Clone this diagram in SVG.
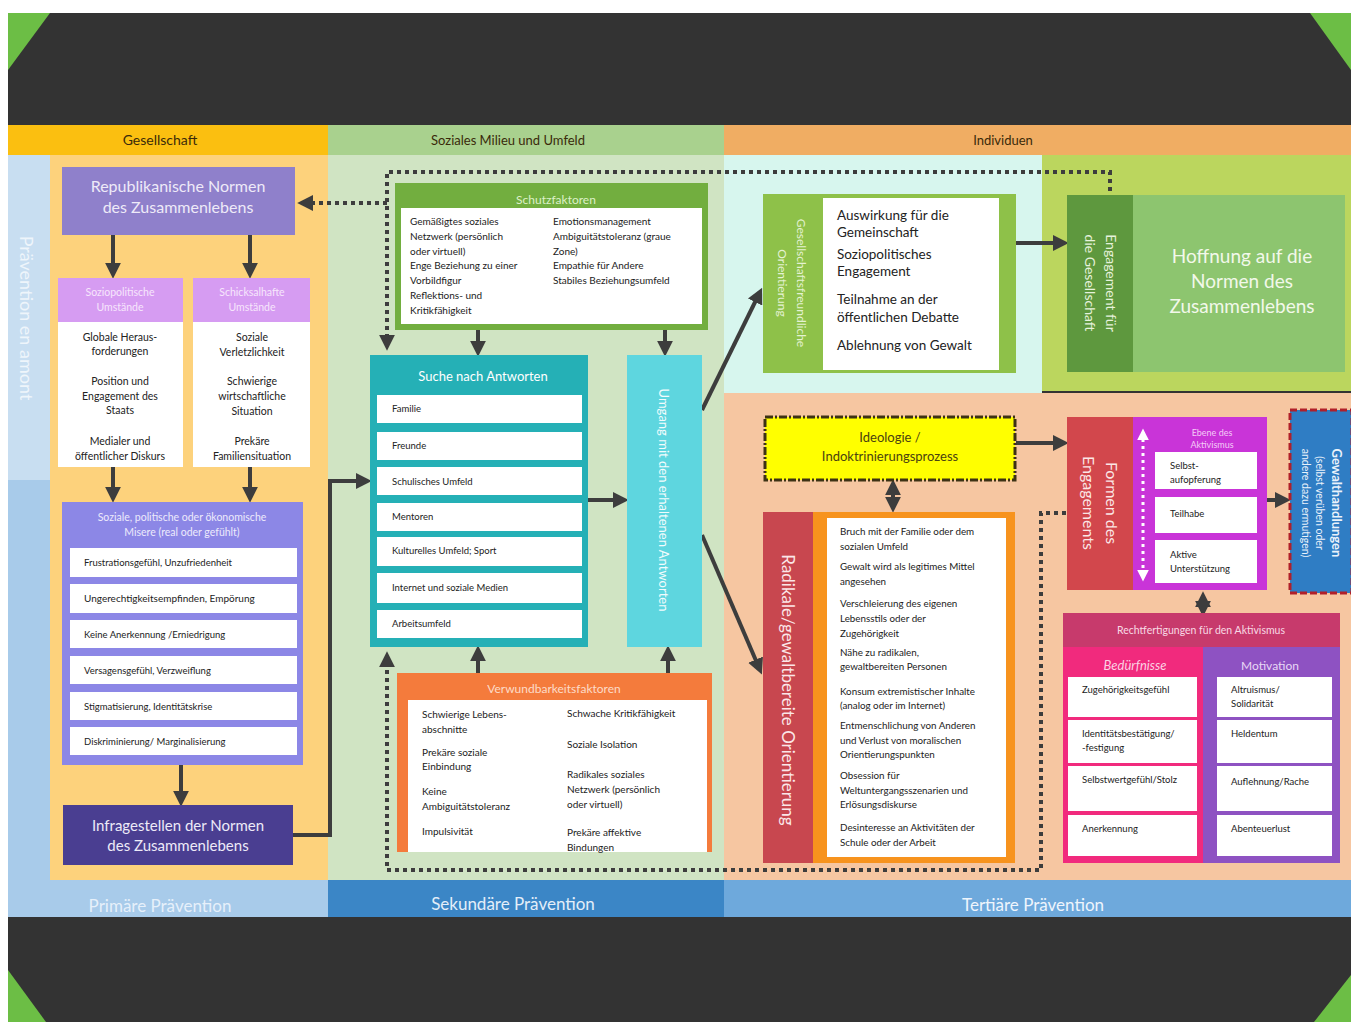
<svg xmlns="http://www.w3.org/2000/svg" width="1351" height="1022" viewBox="0 0 1351 1022">
<style>
text{font-family:Lato,"Open Sans","Liberation Sans",sans-serif}
.c{text-anchor:middle}
.it{font-size:10px;fill:#222}
.itc{font-size:10.5px;fill:#222;text-anchor:middle}
.w{fill:#fff}
.ar{stroke:#3d3d3d;stroke-width:4;fill:none}
.dot{stroke:#3d3d3d;stroke-width:4;fill:none;stroke-dasharray:4 4}
.hdr{font-size:14px;fill:#3a2a0a;text-anchor:middle}
.band{font-size:17px;text-anchor:middle}
</style>
<defs>
<marker id="ah" viewBox="0 0 10 10" refX="7" refY="5" markerWidth="4" markerHeight="4" orient="auto-start-reverse"><path d="M0,0 L10,5 L0,10 z" fill="#3d3d3d"/></marker>
<marker id="ahw" viewBox="0 0 10 10" refX="7" refY="5" markerWidth="4" markerHeight="4" orient="auto-start-reverse"><path d="M0,0 L10,5 L0,10 z" fill="#fff"/></marker>
</defs>
<rect width="1351" height="1022" fill="#fff"/>
<!-- frame -->
<rect x="8" y="13" width="1343" height="1009" fill="#333"/>
<polygon points="8,13 50,13 8,70" fill="#6CBE45"/>
<polygon points="1310,13 1351,13 1351,70" fill="#6CBE45"/>
<polygon points="8,970 8,1022 46,1022" fill="#6CBE45"/>
<polygon points="1351,975 1351,1022 1314,1022" fill="#6CBE45"/>
<!-- headers -->
<rect x="8" y="125" width="320" height="30" fill="#FBBF10"/>
<rect x="328" y="125" width="396" height="30" fill="#A9D18E"/>
<rect x="724" y="125" width="627" height="30" fill="#F0AD63"/>
<text x="160" y="145" class="hdr">Gesellschaft</text>
<text x="508" y="145" class="hdr" style="font-size:13px">Soziales Milieu und Umfeld</text>
<text x="1003" y="145" class="hdr" style="font-size:13px">Individuen</text>
<!-- regions -->
<rect x="8" y="155" width="42" height="325" fill="#C8DEF1"/>
<rect x="8" y="480" width="42" height="437" fill="#A8CBEA"/>
<rect x="50" y="155" width="278" height="725" fill="#FDD27C"/>
<rect x="328" y="155" width="396" height="725" fill="#D0E4C3"/>
<rect x="724" y="155" width="318" height="238" fill="#D7F6EE"/>
<rect x="1042" y="155" width="309" height="236" fill="#BBD65E"/>
<rect x="724" y="393" width="627" height="487" fill="#F6C6A1"/>
<rect x="8" y="880" width="320" height="37" fill="#A8CBEA"/>
<rect x="328" y="880" width="396" height="37" fill="#3B86C6"/>
<rect x="724" y="880" width="627" height="37" fill="#6EA9DC"/>
<text x="160" y="912" class="band" fill="#E6F0FA">Primäre Prävention</text>
<text x="513" y="910" class="band" fill="#E3EEF9">Sekundäre Prävention</text>
<text x="1033" y="911" class="band" fill="#EEF5FC">Tertiäre Prävention</text>
<text x="26" y="318" class="c" transform="rotate(90 26 318)" style="font-size:18px" fill="#EEF5FB" dy="6">Prävention en amont</text>

<!-- connectors -->
<g id="connectors">
<path class="dot" d="M387,346 V172 H1110 V193" marker-start="url(#ah)"/>
<path class="dot" d="M387,203 H302" marker-end="url(#ah)"/>
<path class="dot" d="M1066,513 H1041 V870 H387 V656" marker-end="url(#ah)"/>
<line class="ar" x1="113" y1="235" x2="113" y2="274" marker-end="url(#ah)"/>
<line class="ar" x1="250" y1="235" x2="250" y2="274" marker-end="url(#ah)"/>
<line class="ar" x1="113" y1="467" x2="113" y2="498" marker-end="url(#ah)"/>
<line class="ar" x1="250" y1="467" x2="250" y2="498" marker-end="url(#ah)"/>
<line class="ar" x1="181" y1="765" x2="181" y2="802" marker-end="url(#ah)"/>
<path class="ar" d="M293,835 H330 V481 H367" marker-end="url(#ah)"/>
<line class="ar" x1="478" y1="330" x2="478" y2="352" marker-end="url(#ah)"/>
<line class="ar" x1="665" y1="330" x2="665" y2="352" marker-end="url(#ah)"/>
<line class="ar" x1="588" y1="500" x2="624" y2="500" marker-end="url(#ah)"/>
<line class="ar" x1="478" y1="673" x2="478" y2="650" marker-end="url(#ah)"/>
<line class="ar" x1="668" y1="673" x2="668" y2="650" marker-end="url(#ah)"/>
<line class="ar" x1="702" y1="410" x2="760" y2="292" marker-end="url(#ah)"/>
<line class="ar" x1="702" y1="535" x2="760" y2="670" marker-end="url(#ah)"/>
<line class="ar" x1="1016" y1="243" x2="1064" y2="243" marker-end="url(#ah)"/>
<line class="ar" x1="1016" y1="443" x2="1064" y2="443" marker-end="url(#ah)"/>
<line class="ar" x1="893" y1="484" x2="893" y2="508" stroke-width="3" marker-start="url(#ah)" marker-end="url(#ah)"/>
<line class="ar" x1="1267" y1="500" x2="1286" y2="500" marker-end="url(#ah)"/>
<line class="ar" x1="1203" y1="596" x2="1203" y2="612" stroke-width="3" marker-start="url(#ah)" marker-end="url(#ah)"/>
</g>

<!-- Gesellschaft column -->
<g id="republikanische">
<rect x="62" y="167" width="233" height="68" fill="#8F80CB"/>
<text x="178" y="192" class="c" style="font-size:16px" fill="#EEEAF8">Republikanische Normen</text>
<text x="178" y="213" class="c" style="font-size:16px" fill="#EEEAF8">des Zusammenlebens</text>
</g>
<g id="soziopolitische">
<rect x="58" y="278" width="125" height="44" fill="#D69CF2"/>
<text x="120" y="296" class="c" style="font-size:10.5px" fill="#F6E6FC">Soziopolitische</text>
<text x="120" y="311" class="c" style="font-size:10.5px" fill="#F6E6FC">Umstände</text>
<rect x="58" y="322" width="125" height="145" fill="#fff"/>
<text x="120" y="341" class="itc">Globale Heraus-</text>
<text x="120" y="355" class="itc">forderungen</text>
<text x="120" y="385" class="itc">Position und</text>
<text x="120" y="400" class="itc">Engagement des</text>
<text x="120" y="414" class="itc">Staats</text>
<text x="120" y="445" class="itc">Medialer und</text>
<text x="120" y="460" class="itc">öffentlicher Diskurs</text>
</g>
<g id="schicksalhafte">
<rect x="193" y="278" width="117" height="44" fill="#D69CF2"/>
<text x="252" y="296" class="c" style="font-size:10.5px" fill="#F6E6FC">Schicksalhafte</text>
<text x="252" y="311" class="c" style="font-size:10.5px" fill="#F6E6FC">Umstände</text>
<rect x="193" y="322" width="117" height="145" fill="#fff"/>
<text x="252" y="341" class="itc">Soziale</text>
<text x="252" y="356" class="itc">Verletzlichkeit</text>
<text x="252" y="385" class="itc">Schwierige</text>
<text x="252" y="400" class="itc">wirtschaftliche</text>
<text x="252" y="415" class="itc">Situation</text>
<text x="252" y="445" class="itc">Prekäre</text>
<text x="252" y="460" class="itc">Familiensituation</text>
</g>
<g id="misere">
<rect x="62" y="502" width="241" height="263" fill="#8C87E6"/>
<text x="182" y="521" class="c" style="font-size:10.5px" fill="#ECEAFC">Soziale, politische oder ökonomische</text>
<text x="182" y="536" class="c" style="font-size:10.5px" fill="#ECEAFC">Misere (real oder gefühlt)</text>
<rect x="70" y="548" width="227" height="29" class="w"/>
<rect x="70" y="584" width="227" height="29" class="w"/>
<rect x="70" y="620" width="227" height="28" class="w"/>
<rect x="70" y="656" width="227" height="28" class="w"/>
<rect x="70" y="692" width="227" height="28" class="w"/>
<rect x="70" y="727" width="227" height="28" class="w"/>
<text x="84" y="566" class="it" style="font-size:9.5px">Frustrationsgefühl, Unzufriedenheit</text>
<text x="84" y="602" class="it">Ungerechtigkeitsempfinden, Empörung</text>
<text x="84" y="638" class="it" style="font-size:9.5px">Keine Anerkennung /Erniedrigung</text>
<text x="84" y="674" class="it" style="font-size:9.5px">Versagensgefühl, Verzweiflung</text>
<text x="84" y="710" class="it" style="font-size:9.5px">Stigmatisierung, Identitätskrise</text>
<text x="84" y="745" class="it" style="font-size:9.5px">Diskriminierung/ Marginalisierung</text>
</g>
<g id="infragestellen">
<rect x="63" y="805" width="230" height="60" fill="#4A3E91"/>
<text x="178" y="831" class="c" style="font-size:15px" fill="#EDEAF8">Infragestellen der Normen</text>
<text x="178" y="851" class="c" style="font-size:15px" fill="#EDEAF8">des Zusammenlebens</text>
</g>

<!-- Soziales Milieu -->
<g id="schutzfaktoren">
<rect x="395" y="183" width="313" height="147" fill="#72AE3F"/>
<rect x="401" y="208" width="301" height="116" class="w"/>
<text x="556" y="204" class="c" style="font-size:12px" fill="#DDF0C8">Schutzfaktoren</text>
<text x="410" y="225" class="it">Gemäßigtes soziales</text>
<text x="410" y="240" class="it">Netzwerk (persönlich</text>
<text x="410" y="255" class="it">oder virtuell)</text>
<text x="410" y="269" class="it">Enge Beziehung zu einer</text>
<text x="410" y="284" class="it">Vorbildfigur</text>
<text x="410" y="299" class="it">Reflektions- und</text>
<text x="410" y="314" class="it">Kritikfähigkeit</text>
<text x="553" y="225" class="it">Emotionsmanagement</text>
<text x="553" y="240" class="it">Ambiguitätstoleranz (graue</text>
<text x="553" y="255" class="it">Zone)</text>
<text x="553" y="269" class="it">Empathie für Andere</text>
<text x="553" y="284" class="it">Stabiles Beziehungsumfeld</text>
</g>
<g id="suche">
<rect x="370" y="355" width="218" height="292" fill="#25B0B6"/>
<text x="483" y="381" class="c" style="font-size:13px" fill="#fff">Suche nach Antworten</text>
<rect x="377" y="395" width="205" height="28" class="w"/>
<rect x="377" y="432" width="205" height="28" class="w"/>
<rect x="377" y="467" width="205" height="28" class="w"/>
<rect x="377" y="503" width="205" height="28" class="w"/>
<rect x="377" y="537" width="205" height="29" class="w"/>
<rect x="377" y="573" width="205" height="30" class="w"/>
<rect x="377" y="610" width="205" height="28" class="w"/>
<text x="392" y="412" class="it" style="font-size:9.5px">Familie</text>
<text x="392" y="449" class="it" style="font-size:9.5px">Freunde</text>
<text x="392" y="485" class="it" style="font-size:9.5px">Schulisches Umfeld</text>
<text x="392" y="520" class="it" style="font-size:9.5px">Mentoren</text>
<text x="392" y="554" class="it" style="font-size:9.5px">Kulturelles Umfeld; Sport</text>
<text x="392" y="591" class="it" style="font-size:9.5px">Internet und soziale Medien</text>
<text x="392" y="627" class="it" style="font-size:9.5px">Arbeitsumfeld</text>
</g>
<g id="umgang">
<rect x="627" y="355" width="75" height="292" fill="#5ED6DF"/>
<text x="664" y="500" class="c" transform="rotate(90 664 500)" dy="5" style="font-size:13px" fill="#F2FCFD">Umgang mit den erhaltenen Antworten</text>
</g>
<g id="verwundbarkeit">
<rect x="397" y="673" width="315" height="179" fill="#F47B3C"/>
<rect x="408" y="700" width="299" height="152" class="w"/>
<text x="554" y="693" class="c" style="font-size:12px" fill="#FDDCC8">Verwundbarkeitsfaktoren</text>
<text x="422" y="718" class="it">Schwierige Lebens-</text>
<text x="422" y="733" class="it">abschnitte</text>
<text x="422" y="756" class="it">Prekäre soziale</text>
<text x="422" y="770" class="it">Einbindung</text>
<text x="422" y="795" class="it">Keine</text>
<text x="422" y="810" class="it">Ambiguitätstoleranz</text>
<text x="422" y="835" class="it">Impulsivität</text>
<text x="567" y="717" class="it">Schwache Kritikfähigkeit</text>
<text x="567" y="748" class="it">Soziale Isolation</text>
<text x="567" y="778" class="it">Radikales soziales</text>
<text x="567" y="793" class="it">Netzwerk (persönlich</text>
<text x="567" y="808" class="it">oder virtuell)</text>
<text x="567" y="836" class="it">Prekäre affektive</text>
<text x="567" y="851" class="it">Bindungen</text>
</g>

<!-- Individuen -->
<g id="gesellschaftsfreundlich">
<rect x="763" y="194" width="253" height="179" fill="#8EC149"/>
<rect x="823" y="198" width="176" height="172" class="w"/>
<text x="793" y="283" class="c" transform="rotate(90 793 283)" style="font-size:12px" fill="#E4F2D2"><tspan x="793" dy="-4">Gesellschaftsfreundliche</tspan><tspan x="793" dy="19">Orientierung</tspan></text>
<text x="837" y="220" style="font-size:13.5px" fill="#222">Auswirkung für die</text>
<text x="837" y="237" style="font-size:13.5px" fill="#222">Gemeinschaft</text>
<text x="837" y="259" style="font-size:13.5px" fill="#222">Soziopolitisches</text>
<text x="837" y="276" style="font-size:13.5px" fill="#222">Engagement</text>
<text x="837" y="304" style="font-size:13.5px" fill="#222">Teilnahme an der</text>
<text x="837" y="322" style="font-size:13.5px" fill="#222">öffentlichen Debatte</text>
<text x="837" y="350" style="font-size:13.5px" fill="#222">Ablehnung von Gewalt</text>
</g>
<g id="engagement">
<rect x="1067" y="195" width="66" height="177" fill="#5E983E"/>
<text x="1100" y="283" class="c" transform="rotate(90 1100 283)" style="font-size:14px" fill="#E6F2DC"><tspan x="1100" dy="-6">Engagement für</tspan><tspan x="1100" dy="21">die Gesellschaft</tspan></text>
</g>
<g id="hoffnung">
<rect x="1133" y="195" width="212" height="177" fill="#8DC56F"/>
<text x="1242" y="263" class="c" style="font-size:19px" fill="#F2F8EA">Hoffnung auf die</text>
<text x="1242" y="288" class="c" style="font-size:19px" fill="#F2F8EA">Normen des</text>
<text x="1242" y="313" class="c" style="font-size:19px" fill="#F2F8EA">Zusammenlebens</text>
</g>
<g id="ideologie">
<rect x="765" y="417" width="250" height="63" fill="#FFFF00" stroke="#3d3214" stroke-width="3" stroke-dasharray="8 2 2 2"/>
<text x="890" y="442" class="c" style="font-size:13px" fill="#4A4210">Ideologie /</text>
<text x="890" y="461" class="c" style="font-size:13px" fill="#4A4210">Indoktrinierungsprozess</text>
</g>
<g id="radikale">
<rect x="763" y="512" width="50" height="351" fill="#C8474F"/>
<rect x="813" y="512" width="202" height="351" fill="#F7931E"/>
<rect x="827" y="518" width="179" height="339" class="w"/>
<text x="788" y="690" class="c" transform="rotate(90 788 690)" dy="6" style="font-size:17px" fill="#FBE6E8">Radikale/gewaltbereite Orientierung</text>
<g class="it" style="font-size:9.8px">
<text x="840" y="535">Bruch mit der Familie oder dem</text>
<text x="840" y="550">sozialen Umfeld</text>
<text x="840" y="570">Gewalt wird als legitimes Mittel</text>
<text x="840" y="585">angesehen</text>
<text x="840" y="607">Verschleierung des eigenen</text>
<text x="840" y="622">Lebensstils oder der</text>
<text x="840" y="637">Zugehörigkeit</text>
<text x="840" y="656">Nähe zu radikalen,</text>
<text x="840" y="670">gewaltbereiten Personen</text>
<text x="840" y="695">Konsum extremistischer Inhalte</text>
<text x="840" y="709">(analog oder im Internet)</text>
<text x="840" y="729">Entmenschlichung von Anderen</text>
<text x="840" y="744">und Verlust von moralischen</text>
<text x="840" y="758">Orientierungspunkten</text>
<text x="840" y="779">Obsession für</text>
<text x="840" y="794">Weltuntergangsszenarien und</text>
<text x="840" y="808">Erlösungsdiskurse</text>
<text x="840" y="831">Desinteresse an Aktivitäten der</text>
<text x="840" y="846">Schule oder der Arbeit</text>
</g>
</g>
<g id="formen">
<rect x="1067" y="417" width="66" height="173" fill="#D2474C"/>
<text x="1100" y="503" class="c" transform="rotate(90 1100 503)" style="font-size:16px" fill="#FBE6E6"><tspan x="1100" dy="-6">Formen des</tspan><tspan x="1100" dy="23">Engagements</tspan></text>
</g>
<g id="ebene">
<rect x="1133" y="417" width="134" height="173" fill="#C934D8"/>
<text x="1212" y="436" class="c" style="font-size:9px" fill="#F4CBF7">Ebene des</text>
<text x="1212" y="448" class="c" style="font-size:9px" fill="#F4CBF7">Aktivismus</text>
<rect x="1155" y="452" width="102" height="37" class="w"/>
<rect x="1155" y="497" width="102" height="36" class="w"/>
<rect x="1155" y="540" width="102" height="43" class="w"/>
<text x="1170" y="469" class="it" style="font-size:9.5px">Selbst-</text>
<text x="1170" y="483" class="it" style="font-size:9.5px">aufopferung</text>
<text x="1170" y="517" class="it" style="font-size:9.5px">Teilhabe</text>
<text x="1170" y="558" class="it" style="font-size:9.5px">Aktive</text>
<text x="1170" y="572" class="it" style="font-size:9.5px">Unterstützung</text>
<line x1="1143" y1="432" x2="1143" y2="578" stroke="#fff" stroke-width="3" stroke-dasharray="3 4" marker-start="url(#ahw)" marker-end="url(#ahw)"/>
</g>
<g id="gewalt">
<rect x="1290" y="410" width="62" height="183" fill="#2F7DC4" stroke="#B0202A" stroke-width="3" stroke-dasharray="7 3"/>
<text x="1320" y="503" class="c" transform="rotate(90 1320 503)" fill="#EAF2FB"><tspan x="1320" dy="-12" style="font-size:13px;font-weight:bold">Gewalthandlungen</tspan><tspan x="1320" dy="16" style="font-size:10.5px">(selbst verüben oder</tspan><tspan x="1320" dy="14" style="font-size:10.5px">andere dazu ermutigen)</tspan></text>
</g>
<g id="rechtfertigungen">
<rect x="1063" y="613" width="277" height="34" fill="#C73A6C"/>
<text x="1201" y="634" class="c" style="font-size:10.5px" fill="#F8D9E4">Rechtfertigungen für den Aktivismus</text>
<rect x="1063" y="647" width="140" height="216" fill="#F12A7D"/>
<rect x="1203" y="647" width="137" height="216" fill="#8E52C2"/>
<text x="1135" y="670" class="c" style="font-size:13px;font-style:italic" fill="#FCD2E3">Bedürfnisse</text>
<text x="1270" y="670" class="c" style="font-size:12px" fill="#E8D8F5">Motivation</text>
<rect x="1068" y="677" width="129" height="40" class="w"/>
<rect x="1068" y="720" width="129" height="43" class="w"/>
<rect x="1068" y="766" width="129" height="45" class="w"/>
<rect x="1068" y="815" width="129" height="41" class="w"/>
<rect x="1217" y="677" width="115" height="40" class="w"/>
<rect x="1217" y="720" width="115" height="43" class="w"/>
<rect x="1217" y="766" width="115" height="45" class="w"/>
<rect x="1217" y="815" width="115" height="41" class="w"/>
<text x="1082" y="693" class="it" style="font-size:9.5px">Zugehörigkeitsgefühl</text>
<text x="1082" y="737" class="it" style="font-size:9.5px">Identitätsbestätigung/</text>
<text x="1082" y="751" class="it" style="font-size:9.5px">-festigung</text>
<text x="1082" y="783" class="it" style="font-size:9.5px">Selbstwertgefühl/Stolz</text>
<text x="1082" y="832" class="it" style="font-size:9.5px">Anerkennung</text>
<text x="1231" y="693" class="it" style="font-size:9.5px">Altruismus/</text>
<text x="1231" y="707" class="it" style="font-size:9.5px">Solidarität</text>
<text x="1231" y="737" class="it" style="font-size:9.5px">Heldentum</text>
<text x="1231" y="785" class="it" style="font-size:9.5px">Auflehnung/Rache</text>
<text x="1231" y="832" class="it" style="font-size:9.5px">Abenteuerlust</text>
</g>
</svg>
